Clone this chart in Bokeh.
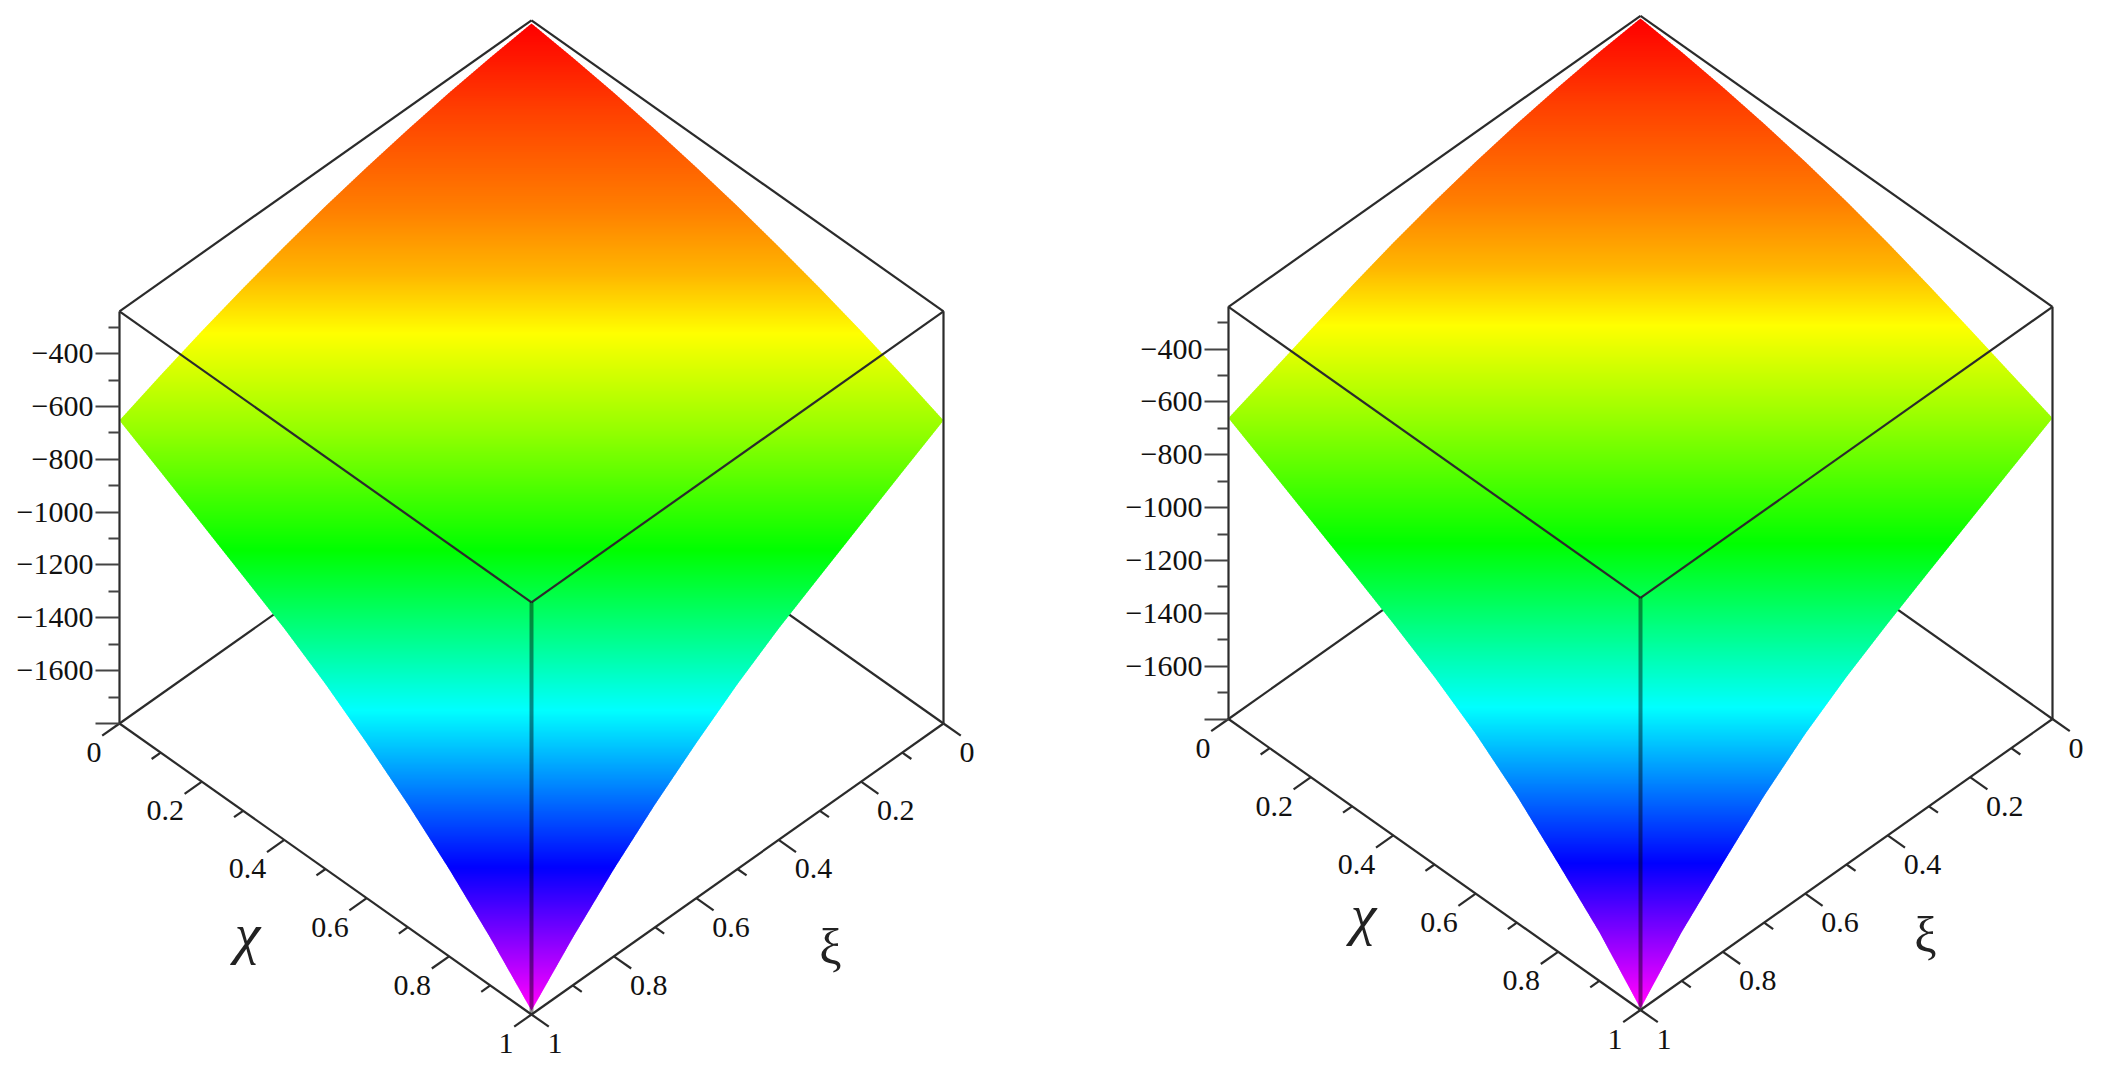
import colorsys
import numpy as np
from bokeh.core.properties import value
from bokeh.embed import file_html
from bokeh.layouts import row
from bokeh.models import ColumnDataSource, FixedTicker, LabelSet, LinearAxis, Range1d
from bokeh.plotting import figure
from bokeh.resources import INLINE

z_major = [-1800, -1600, -1400, -1200, -1000, -800, -600, -400]
z_minor = [-1700, -1500, -1300, -1100, -900, -700, -500, -300]
z_labels = {-1800: "", -1600: "\u22121600", -1400: "\u22121400", -1200: "\u22121200",
            -1000: "\u22121000", -800: "\u2212800", -600: "\u2212600", -400: "\u2212400"}
floor_ticks = [0, 0.2, 0.4, 0.6, 0.8, 1]
floor_minor = [0.1, 0.3, 0.5, 0.7, 0.9]
floor_labels = ["0", "0.2", "0.4", "0.6", "0.8", "1"]
z_floor, z_top = -1800, -240

edge_t = [0, 0.1, 0.2, 0.3, 0.4, 0.5, 0.6, 0.7, 0.8, 0.9, 1]
# surface edge chi = 0 (or xi = 0), then edge chi = 1 (or xi = 1)
left_back_z = [-252, -271, -294, -323, -356, -393, -436, -483, -535, -592, -653]
left_front_z = [-653, -738, -825, -912, -1000, -1100, -1213, -1335, -1470, -1620, -1785]
right_back_z = [-250, -267, -290, -318, -352, -392, -438, -490, -546, -604, -661]
right_front_z = [-661, -744, -828, -912, -998, -1090, -1195, -1320, -1465, -1615, -1794]

# colour bands: hue against apparent height
band_hue = [0, 6, 15, 30, 43, 60, 85, 120, 180, 240, 300]
left_band_level = [846, 709, 520, 142, -104, -324, -691, -1145, -1751, -2345, -2867]
right_band_level = [844, 711, 522, 151, -95, -311, -670, -1136, -1756, -2347, -2865]

FONT = "Liberation Serif"
INK = "#2b2b2b"
PX = 0.2642          # pixels per height unit
K = 291 / PX         # height units of screen travel for one unit of chi + xi
HALF = 412.0


def proj(chi, xi, z):
    chi, xi, z = np.asarray(chi, float), np.asarray(xi, float), np.asarray(z, float)
    return chi - xi, z + (1 - chi - xi) * K


def panel(left_px, width, axis_px, centre_px, floor_px, back_z, front_z,
          band_level, chi_pos, xi_pos):
    page_top, page_bottom = 0, 1072
    sy_to_y = lambda sy: -1800 + (floor_px - sy) / PX
    sx_to_x = lambda sx: (sx - centre_px) / HALF
    p = figure(width=width, height=page_bottom - page_top, output_backend="svg",
               toolbar_location=None, x_axis_type=None, y_axis_type=None,
               x_range=Range1d(sx_to_x(left_px), sx_to_x(left_px + width)),
               y_range=Range1d(sy_to_y(page_bottom), sy_to_y(page_top)),
               min_border_left=0, min_border_right=0,
               min_border_top=0, min_border_bottom=0,
               outline_line_color=None, background_fill_color="white",
               border_fill_color="white")
    p.grid.visible = False

    axis = LinearAxis(ticker=FixedTicker(ticks=z_major, minor_ticks=z_minor),
                      fixed_location=sx_to_x(axis_px),
                      major_label_overrides=z_labels, bounds=(z_floor, z_top),
                      axis_line_color=INK, axis_line_width=2.2,
                      major_tick_line_color="#444444", major_tick_line_width=2,
                      major_tick_in=0, major_tick_out=24,
                      minor_tick_line_color="#444444", minor_tick_line_width=2,
                      minor_tick_in=0, minor_tick_out=11,
                      major_label_standoff=2, major_label_text_font=FONT,
                      major_label_text_font_size="30px", major_label_text_color="#111111")
    p.add_layout(axis, "left")

    def line(a, b, width=2.2, color=INK, alpha=1.0):
        x, y = proj([a[0], b[0]], [a[1], b[1]], [a[2], b[2]])
        p.line(x, y, line_color=color, line_width=width, line_alpha=alpha)

    # floor lines behind the surface
    line((0, 1, z_floor), (0, 0, z_floor))
    line((1, 0, z_floor), (0, 0, z_floor))

    # surface, as stacked strips
    n = len(edge_t)
    _, yb = proj(np.zeros(n), edge_t, back_z)
    _, yf = proj(edge_t, np.ones(n), front_z)
    ws = np.concatenate([edge_t, 1 - np.asarray(edge_t)[1:]])
    ys = np.concatenate([yb, yf[1:]])
    step = 2 / PX
    xs_all, ys_all, colors = [], [], []
    y = ys[0]
    while y > ys[-1]:
        y1 = max(y - step, ys[-1])
        y2 = max(y - step - 1 / PX, ys[-1])
        w0 = np.interp(y, ys[::-1], ws[::-1])
        w2 = np.interp(y2, ys[::-1], ws[::-1])
        xs_all.append([-w0, w0, w2, -w2])
        ys_all.append([y, y, y2, y2])
        hue = np.interp(-(y + y1) / 2, -np.asarray(band_level), band_hue)
        r, g, b = colorsys.hsv_to_rgb(hue / 360, 1, 1)
        colors.append("#%02x%02x%02x" % (round(r * 255), round(g * 255), round(b * 255)))
        y = y1
    p.patches(xs_all, ys_all, fill_color=colors, line_color=None)

    # box
    line((0, 1, z_top), (0, 0, z_top))
    line((0, 0, z_top), (1, 0, z_top))
    line((1, 0, z_top), (1, 1, z_top))
    line((1, 1, z_top), (0, 1, z_top))
    line((1, 0, z_top), (1, 0, z_floor))
    line((1, 1, z_top), (1, 1, z_floor), width=4, color="black", alpha=0.45)
    line((0, 1, z_floor), (1, 1, z_floor))
    line((1, 0, z_floor), (1, 1, z_floor))

    # floor ticks
    for t in floor_ticks:
        line((t, 1, z_floor), (t, 1.042, z_floor))
        line((1, t, z_floor), (1.042, t, z_floor))
    for t in floor_minor:
        line((t, 1, z_floor), (t, 1.022, z_floor))
        line((1, t, z_floor), (1.022, t, z_floor))

    # floor tick labels
    x, y = proj(floor_ticks, np.ones(6), np.full(6, z_floor))
    p.add_layout(LabelSet(source=ColumnDataSource(dict(x=x, y=y, text=floor_labels)),
                          x="x", y="y", text="text", x_offset=-18, y_offset=-29,
                          text_align="right", text_baseline="middle", text_font=value(FONT),
                          text_font_size="30px", text_color="#111111"))
    x, y = proj(np.ones(6), floor_ticks, np.full(6, z_floor))
    p.add_layout(LabelSet(source=ColumnDataSource(dict(x=x, y=y, text=floor_labels)),
                          x="x", y="y", text="text", x_offset=16, y_offset=-29,
                          text_align="left", text_baseline="middle", text_font=value(FONT),
                          text_font_size="30px", text_color="#111111"))

    # axis names
    p.text([sx_to_x(chi_pos[0])], [sy_to_y(chi_pos[1])], text=["\u03c7"], text_font=value(FONT),
           text_font_style="italic", text_font_size="58px", text_align="center",
           text_baseline="middle", text_color="#222222")
    p.text([sx_to_x(xi_pos[0])], [sy_to_y(xi_pos[1])], text=["\u03be"], text_font=value(FONT),
           text_font_size="50px", text_align="center",
           text_baseline="middle", text_color="#222222")
    return p


p1 = panel(0, 1048, 119, 531, 723, left_back_z, left_front_z,
           left_band_level, (247, 933), (830, 946))
p2 = panel(1048, 1047, 1228, 1640, 718.5, right_back_z, right_front_z,
           right_band_level, (1363, 914), (1925, 934))

open("out.html", "w").write(file_html(row(p1, p2, spacing=0), INLINE))
